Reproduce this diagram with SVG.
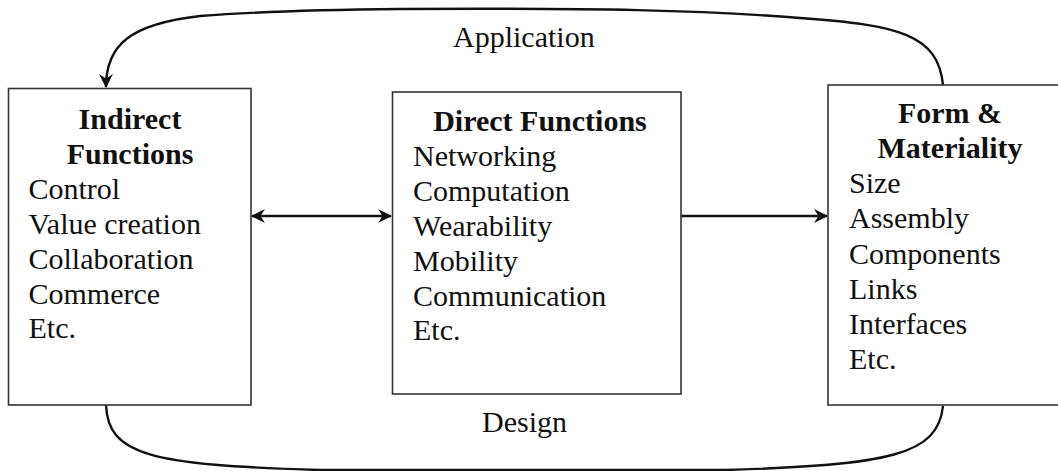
<svg xmlns="http://www.w3.org/2000/svg" width="1058" height="471" viewBox="0 0 1058 471">
<style>
.box{fill:#fff;stroke:#333;stroke-width:1.6}
.t{font-family:"Liberation Serif","Times New Roman",serif;font-size:30px;fill:#111}
.b{font-weight:bold;text-anchor:middle}
.c{fill:none;stroke:#111;stroke-width:2.4}
</style>
<defs>
<marker id="ah" viewBox="0 0 14 14" refX="13" refY="7" markerWidth="14" markerHeight="14" markerUnits="userSpaceOnUse" orient="auto-start-reverse">
<path d="M0,0 L14,7 L0,14 L4.5,7 Z" fill="#111"/>
</marker>
</defs>
<g id="connectors">
<path class="c" d="M943,85 C938,35 900,25 800,18 C700,10 600,8 400,9 C300,10 250,12 200,16 C130,24 106,45 106,87" marker-end="url(#ah)"/>
<path class="c" d="M106,405 C108,455 150,465 320,470 L725,470 C890,465 938,455 943,406"/>
<line class="c" x1="252" y1="216" x2="391" y2="216" marker-start="url(#ah)" marker-end="url(#ah)"/>
<line class="c" x1="681" y1="216" x2="827" y2="216" marker-end="url(#ah)"/>
<text class="t" x="453" y="47">Application</text>
<text class="t" x="482" y="432">Design</text>
</g>
<g id="indirect">
<rect class="box" x="8.5" y="88.5" width="242.5" height="316.5"/>
<text class="t b" x="130" y="129">Indirect</text>
<text class="t b" x="130" y="164">Functions</text>
<text class="t" x="28.5" y="199">Control</text>
<text class="t" x="28.5" y="234">Value creation</text>
<text class="t" x="28.5" y="269">Collaboration</text>
<text class="t" x="28.5" y="304">Commerce</text>
<text class="t" x="28.5" y="338">Etc.</text>
</g>
<g id="direct">
<rect class="box" x="392.5" y="92" width="288.5" height="302"/>
<text class="t b" x="540" y="131">Direct Functions</text>
<text class="t" x="413" y="166">Networking</text>
<text class="t" x="413" y="201">Computation</text>
<text class="t" x="413" y="236">Wearability</text>
<text class="t" x="413" y="271">Mobility</text>
<text class="t" x="413" y="306">Communication</text>
<text class="t" x="413" y="340">Etc.</text>
</g>
<g id="form">
<rect class="box" x="828" y="85" width="250" height="320"/>
<text class="t b" x="950" y="123">Form &amp;</text>
<text class="t b" x="950" y="158">Materiality</text>
<text class="t" x="849" y="193">Size</text>
<text class="t" x="849" y="228">Assembly</text>
<text class="t" x="849" y="264">Components</text>
<text class="t" x="849" y="299">Links</text>
<text class="t" x="849" y="334">Interfaces</text>
<text class="t" x="849" y="369">Etc.</text>
</g>
</svg>
